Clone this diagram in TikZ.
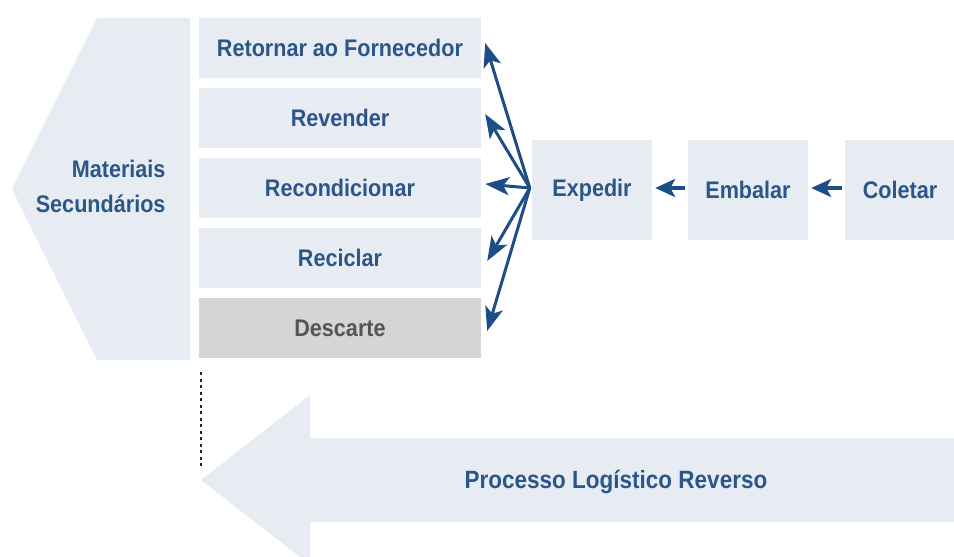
\documentclass[tikz,border=0pt]{standalone}
\usepackage{fontspec}
\newfontfamily\lab{Liberation Sans}[FakeStretch=0.9]
\usetikzlibrary{arrows.meta}
\definecolor{boxfill}{HTML}{E7ECF2}
\definecolor{grayfill}{HTML}{D5D5D5}
\definecolor{txtblue}{HTML}{2C5689}
\definecolor{arrblue}{HTML}{1E4E88}
\definecolor{txtgray}{HTML}{555555}
\begin{document}
\begin{tikzpicture}[x=1pt,y=-1pt,
  lbl/.style={font=\lab\bfseries\fontsize{24}{35}\selectfont, text=txtblue},
  optbox/.style={lbl, fill=boxfill, minimum width=282pt, minimum height=60pt, inner sep=0pt},
  stepbox/.style={lbl, fill=boxfill, minimum width=120pt, minimum height=100pt, inner sep=0pt},
  conn/.style={draw=arrblue, line width=3pt, -{Stealth[length=24pt,width=18pt,inset=6pt]}},
  small/.style={draw=arrblue, line width=3.5pt, -{Stealth[length=20pt,width=18pt,inset=5pt]}, shorten <=3pt, shorten >=3pt}
]
\useasboundingbox (0,0) rectangle (954,557);
\fill[white] (0,0) rectangle (954,557);

% left pentagon
\fill[boxfill] (97,18) -- (190,18) -- (190,360) -- (97,360) -- (12,189) -- cycle;
\node[lbl, align=right, anchor=east] (mat) at (169,186) {Materiais\\Secundários};

% option boxes
\node[optbox] (ret) at (340,48) {Retornar ao Fornecedor};
\node[optbox] (rev) at (340,118) {Revender};
\node[optbox] (rec) at (340,188) {Recondicionar};
\node[optbox] (cic) at (340,258) {Reciclar};
\node[optbox, fill=grayfill, text=txtgray] (des) at (340,328) {Descarte};

% step boxes
\node[stepbox] (exp) at (592,190) {Expedir};
\node[stepbox] (emb) at (748,190) {Embalar};
\node[stepbox, minimum width=110pt] (col) at (900,190) {Coletar};

% fan arrows
\draw[conn] ([xshift=-2pt,yshift=2pt]exp.west) -- ([xshift=4pt,yshift=5pt]ret.east);
\draw[conn] ([xshift=-2pt,yshift=2pt]exp.west) -- ([xshift=4pt,yshift=4pt]rev.east);
\draw[conn] ([xshift=-2pt,yshift=2pt]exp.west) -- ([xshift=4pt,yshift=4pt]rec.east);
\draw[conn] ([xshift=-2pt,yshift=2pt]exp.west) -- ([xshift=6pt,yshift=-3pt]cic.east);
\draw[conn] ([xshift=-2pt,yshift=2pt]exp.west) -- ([xshift=6pt,yshift=-3pt]des.east);

% chain arrows
\draw[small] ([yshift=2pt]emb.west) -- ([yshift=2pt]exp.east);
\draw[small] ([yshift=2pt]col.west) -- ([yshift=2pt]emb.east);

% big process arrow
\fill[boxfill] (201,480) -- (310,395) -- (310,438) -- (954,438) -- (954,522) -- (310,522) -- (310,557) -- (300,557) -- cycle;
\node[lbl, font=\lab\bfseries\fontsize{25}{30}\selectfont] (proc) at (616,482) {Processo Logístico Reverso};

% dotted divider
\coordinate (d1) at (201,372);
\coordinate (d2) at (201,468);
\draw[line width=2.6pt, dash pattern=on 3pt off 3.5pt, black!85] (d1) -- (d2);
\end{tikzpicture}
\end{document}
